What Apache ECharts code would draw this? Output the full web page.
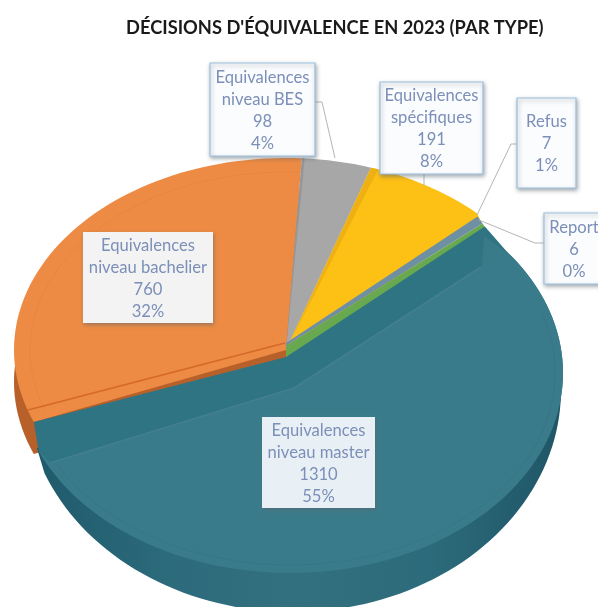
<!DOCTYPE html>
<html>
<head>
<meta charset="utf-8">
<style>html,body{margin:0;padding:0;background:#fff}#main{width:598px;height:607px}</style>
<script src="https://cdn.jsdelivr.net/npm/echarts@6/dist/echarts.min.js"></script>
</head>
<body>
<div id="main"></div>
<script>
var titleText = "DÉCISIONS D'ÉQUIVALENCE EN 2023 (PAR TYPE)";
var categories = ['Equivalences\nniveau bachelier', 'Equivalences\nniveau BES', 'Equivalences\nspécifiques', 'Refus', 'Report', 'Equivalences\nniveau master'];
var values = [760, 98, 191, 7, 6, 1310];
var percents = ['32%', '4%', '8%', '1%', '0%', '55%'];
var colors = ['#ed8a43', '#a7a7a7', '#fdc015', '#6f8fa3', '#68a84e', '#3a7b8b'];

// x, y, w, h of the label boxes and their leader lines
var labelBoxes = [
	[83, 232, 130, 91], [210, 63, 105, 93], [380, 82, 103, 92], [517, 98, 59, 90], [544, 213, 60, 71], [262, 417, 113, 91]
];
var leaders = [
	null, [[315, 102], [322, 102], [335, 158]], [[424, 174], [424, 186]],
	[[517, 144], [511, 144], [477, 215]], [[544, 243], [535, 243], [479, 220]], null
];
var boxFills = ['#f3f3f3', '#fbfcfe', '#fbfcfe', '#fbfcfe', '#fbfcfe', '#e9f0f5'];

var startAngle = 248;   // clockwise from the top of the ellipse
var total = values.reduce(function (a, b) { return a + b; }, 0);
var angles = [];
values.reduce(function (acc, v) {
	angles.push([acc, acc + v / total * 360]);
	return acc + v / total * 360;
}, startAngle);

var top0 = { cx: 286, cy: 350, rx: 272, ry: 192 };    // main pie top
var side0 = { cx: 286, cy: 382, rx: 272, ry: 192 };   // main pie rim
var top1 = { cx: 290, cy: 373, rx: 273, ry: 200 };    // pulled out slice top
var side1 = { cx: 293, cy: 390, rx: 268, ry: 222 };   // pulled out slice rim
var inner1 = { cx: 290, cy: 373, rx: 265, ry: 192 };

function pt(e, deg) {
	var r = deg * Math.PI / 180;
	return [e.cx + e.rx * Math.sin(r), e.cy - e.ry * Math.cos(r)];
}
function arc(e, a, b) {
	var out = [], n = Math.max(2, Math.ceil(Math.abs(b - a) / 2));
	for (var i = 0; i <= n; i++) out.push(pt(e, a + (b - a) * i / n));
	return out;
}
function poly(points, fill) {
	return { type: 'polygon', shape: { points: points }, style: { fill: fill }, silent: true };
}
function line(points, color, width, opacity) {
	return {
		type: 'polyline', shape: { points: points }, silent: true,
		style: { fill: null, stroke: color, lineWidth: width, opacity: opacity == null ? 1 : opacity }
	};
}
var apex = [top0.cx, top0.cy];

function renderSlice(params) {
	var i = params.dataIndex, a = angles[i][0], b = angles[i][1], kids = [];
	if (i === 0) {
		kids.push(poly([[side0.cx, side0.cy]].concat(arc(side0, a, b)), '#b8602a'));
		kids.push(poly([apex].concat(arc(top0, a, b)), colors[0]));
		kids.push(line(arc({ cx: 286, cy: 350, rx: 256, ry: 178 }, a + 2, b), '#d97a38', 1, 0.3));
		kids.push(line([[28, 410], [apex[0] - 1, apex[1] - 7]], '#d4692a', 1.5));
	} else if (i === 5) {
		var corner = pt(top0, a), rimEnd = pt(top1, b);
		kids.push(poly([[side1.cx, side1.cy]].concat(arc(side1, a, b), [rimEnd]), new echarts.graphic.LinearGradient(0, 0, 1, 0, [
			{ offset: 0, color: '#1f5a6b' }, { offset: 0.25, color: '#2c6b7c' }, { offset: 0.5, color: '#33707f' },
			{ offset: 0.75, color: '#2c6b7b' }, { offset: 1, color: '#1f5666' }
		])));
		// dark cut band of the slice, from the pie centre to the rim
		kids.push(poly([[apex[0], apex[1] + 7], [corner[0] - 7, corner[1] + 2]].concat(arc(top1, a + 3, b - 1), [pt(top0, b)]), '#2f7482'));
		kids.push(poly([[294, 388], [481, 267], [484, 236]].concat(arc(top1, a + 5, b - 1), [[50, 463]]), colors[5]));
		kids.push(line(arc(inner1, a + 22, b - 6), '#34727f', 1, 0.6));
		kids.push(line([[50, 463], [294, 388], [481, 267]], '#437f90', 1.5));
		kids.push(line([[481, 267], [484, 232]], '#34737f', 1.5));
	} else if (i === 3 || i === 4) {
		// the thin slices are seen as strips running along the cut, both ending at the refus rim point
		var r = pt(top0, angles[3][0]);
		if (i === 3) kids.push(poly([[apex[0], apex[1] - 7], [r[0] - 8, r[1] - 3], [r[0] - 3, r[1] + 4], [apex[0], apex[1] - 4]], colors[3]));
		else kids.push(poly([[apex[0], apex[1] - 4], [r[0] - 3, r[1] + 4], [r[0] + 2, r[1] + 12], [apex[0], apex[1] + 10]], colors[4]));
	} else {
		kids.push(poly([apex].concat(arc(top0, a, b)), colors[i]));
		if (i === 1) kids.push(poly([apex, pt(top0, a), pt(top0, a + 0.6)], '#969696'));
		if (i === 2) {
			kids.push(poly([apex, pt(top0, a), pt(top0, a + 1.6)], '#eeb012'));
			// the yellow stops short of its rim corner, where the strips end
			var rb = pt(top0, b);
			kids.push(poly([pt(top0, b - 2.6), [rb[0] + 3, rb[1] - 3], [rb[0] + 1, rb[1] + 4], [rb[0] - 4, rb[1] + 3]], '#fff'));
		}
	}
	return { type: 'group', children: kids };
}

function renderLabel(params) {
	var i = params.dataIndex, box = labelBoxes[i], kids = [];
	if (leaders[i]) kids.push(line(leaders[i], '#b5b5b5', 1));
	kids.push({
		type: 'rect', silent: true,
		shape: { x: box[0], y: box[1], width: box[2], height: box[3] },
		style: {
			fill: boxFills[i], stroke: (i === 0 || i === 5) ? null : '#9cc1df', lineWidth: 1.2,
			shadowBlur: 4, shadowOffsetX: 1, shadowOffsetY: 2, shadowColor: 'rgba(90,100,110,0.55)'
		}
	});
	kids.push({
		type: 'text', silent: true,
		style: {
			x: box[0] + box[2] / 2, y: box[1] + box[3] / 2 + 1,
			text: categories[i] + '\n' + values[i] + '\n' + percents[i],
			align: 'center', verticalAlign: 'middle',
			fill: '#7b8fb8', font: '16.6px Lato', lineHeight: 22
		}
	});
	return { type: 'group', children: kids };
}

var myChart = echarts.init(document.getElementById('main'), null, { renderer: 'canvas' });
myChart.setOption({
	animation: false,
	backgroundColor: '#fff',
	title: {
		text: titleText, left: 121, top: 14,
		textStyle: { fontFamily: 'Lato', fontSize: 18.3, fontWeight: 'bold', color: '#1a1a1a' }
	},
	tooltip: { show: false },
	series: [
		{ type: 'custom', coordinateSystem: 'none', data: values, renderItem: renderSlice, silent: true, clip: false, z: 2 },
		{ type: 'custom', coordinateSystem: 'none', data: values, renderItem: renderLabel, silent: true, clip: false, z: 3 }
	]
});
</script>
</body>
</html>
